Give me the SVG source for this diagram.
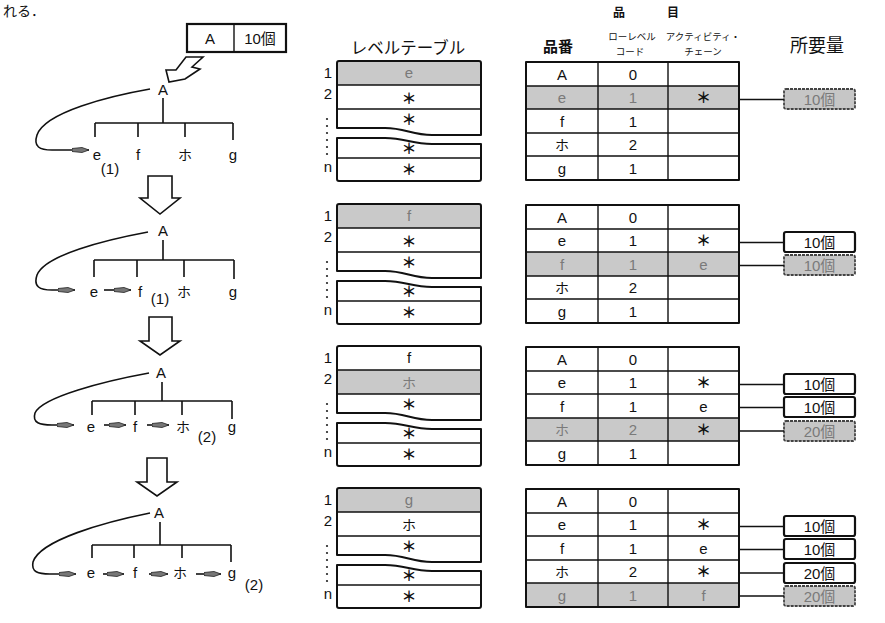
<svg xmlns="http://www.w3.org/2000/svg" xmlns:xlink="http://www.w3.org/1999/xlink" width="885" height="623" viewBox="0 0 885 623">
<style>
.t{font-family:"Liberation Sans","Noto Sans CJK JP",sans-serif;fill:#111;font-size:15px}
.j{font-family:"Noto Sans CJK JP","Liberation Sans",sans-serif;fill:#111}
.m{text-anchor:middle}
.gr{fill:#7a7a7a}
.ln{stroke:#111;stroke-width:1.6;fill:none}
.frame{stroke:#111;stroke-width:2;fill:none;stroke-linejoin:round}
.div{stroke:#111;stroke-width:1.4;fill:none}
.shade{fill:#c9c9c9}
.ast{font-family:"Noto Sans CJK JP",sans-serif;font-weight:bold;font-size:15px;fill:#111;text-anchor:middle}
.box{fill:#fff;stroke:#111;stroke-width:2.2}
.sbox{fill:#c6c6c6;stroke:#444;stroke-width:1.8;stroke-dasharray:3 1}
.hol{fill:#fff;stroke:#111;stroke-width:1.6;stroke-linejoin:miter}
.dot{fill:#222}
</style>
<defs>
<marker id="dart" viewBox="0 0 17 7" refX="17" refY="3.5" markerWidth="17" markerHeight="7" markerUnits="userSpaceOnUse" orient="auto">
<path d="M0,2 L10,1 L17,3.5 L10,6 L0,5 Z" fill="#777" stroke="#222" stroke-width="0.8"/>
</marker>
<g id="lvl">
<path class="frame" d="M0,2 Q0,0 2,0 H142 Q144,0 144,2 V74 H95 C75,74 68,67 48,67 H0 Z"/>
<path class="div" d="M0,24 H144 M0,48 H144"/>
<path class="frame" d="M0,77 H48 C68,77 75,83 95,83 H144 V118 Q144,120 142,120 H2 Q0,120 0,118 Z"/>
<path class="div" d="M0,97 H144"/>
</g>
<g id="rt">
<rect class="frame" x="0" y="0" width="213" height="118"/>
<path class="div" d="M72,0 V118 M142,0 V118 M0,24 H213 M0,47 H213 M0,71 H213 M0,94 H213"/>
</g>
<g id="lvlLabels">
<text class="t m" x="328" y="78">1</text>
<text class="t m" x="328" y="98.5">2</text>
<circle class="dot" cx="327" cy="119" r="1.1"/><circle class="dot" cx="327" cy="126" r="1.1"/><circle class="dot" cx="327" cy="133" r="1.1"/><circle class="dot" cx="327" cy="140" r="1.1"/><circle class="dot" cx="327" cy="147" r="1.1"/><circle class="dot" cx="327" cy="154" r="1.1"/>
<text class="t m" x="328" y="172">n</text>
</g>
</defs>

<text class="j" x="3" y="16" font-size="14">れる．</text>

<g id="headers">
<text class="j m" x="408" y="54" font-size="16.5">レベルテーブル</text>
<text class="j m" x="619 673" y="17" font-size="12" font-weight="bold">品目</text>
<text class="j m" x="558" y="52" font-size="15" font-weight="bold">品番</text>
<text class="j m" x="632" y="40" font-size="9.5">ローレベル</text>
<text class="j m" x="630" y="55" font-size="9.5">コード</text>
<text class="j m" x="703" y="40" font-size="9.5">アクティビティ・</text>
<text class="j m" x="703" y="55" font-size="9.5">チェーン</text>
<text class="j m" x="817" y="52" font-size="18">所要量</text>
</g>

<g id="startBox">
<rect x="187" y="24" width="99" height="28" fill="#fff" stroke="#111" stroke-width="2.2"/>
<line x1="234" y1="24" x2="234" y2="52" stroke="#111" stroke-width="1.4"/>
<text class="t m" x="210" y="44" font-size="16">A</text>
<text class="t m" x="260" y="44" font-size="16">10個</text>
</g>

<g id="tree1">
<text class="t m" x="163" y="95" font-size="16">A</text>
<text class="t m" x="97" y="160">e</text>
<text class="t m" x="138" y="160">f</text>
<text class="j m" x="185" y="160" font-size="14">ホ</text>
<text class="t m" x="233" y="160">g</text>
<text class="t m" x="110" y="174" font-size="13">(1)</text>
</g>
<g id="tree2">
<text class="t m" x="163" y="236" font-size="16">A</text>
<text class="t m" x="94" y="297">e</text>
<text class="t m" x="140" y="297">f</text>
<text class="j m" x="184" y="297" font-size="14">ホ</text>
<text class="t m" x="233" y="297">g</text>
<text class="t m" x="160" y="304" font-size="13">(1)</text>
</g>
<g id="tree3">
<text class="t m" x="161" y="378" font-size="16">A</text>
<text class="t m" x="91" y="432">e</text>
<text class="t m" x="135" y="432">f</text>
<text class="j m" x="183" y="432" font-size="14">ホ</text>
<text class="t m" x="232" y="432">g</text>
<text class="t m" x="207" y="442" font-size="13">(2)</text>
</g>
<g id="tree4">
<text class="t m" x="159" y="518" font-size="16">A</text>
<text class="t m" x="91" y="578">e</text>
<text class="t m" x="135" y="578">f</text>
<text class="j m" x="180" y="578" font-size="14">ホ</text>
<text class="t m" x="232" y="578">g</text>
<text class="t m" x="254" y="590" font-size="13">(2)</text>
</g>

<g id="panel1">
<rect class="shade" x="337" y="61" width="144" height="24"/>
<rect class="shade" x="526" y="86" width="213" height="23"/>
<use xlink:href="#lvl" href="#lvl" x="337" y="61"/>
<use xlink:href="#lvlLabels" href="#lvlLabels"/>
<text class="t m gr" x="409" y="78">e</text>
<text class="ast" x="409" y="103.5">＊</text>
<text class="ast" x="409" y="124.5">＊</text>
<text class="ast" x="409" y="153.5">＊</text>
<text class="ast" x="409" y="174.5">＊</text>
<use xlink:href="#rt" href="#rt" x="526" y="62"/>
<text class="t m" x="562" y="79.5">A</text><text class="t m" x="633" y="79.5">0</text>
<text class="t m gr" x="562" y="103">e</text><text class="t m gr" x="633" y="103">1</text><text class="ast gr" x="703.5" y="103">＊</text>
<text class="t m" x="562" y="126.5">f</text><text class="t m" x="633" y="126.5">1</text>
<text class="j m" x="562" y="150" font-size="14">ホ</text><text class="t m" x="633" y="150">2</text>
<text class="t m" x="562" y="173.5">g</text><text class="t m" x="633" y="173.5">1</text>
<rect class="sbox" x="784" y="89" width="71" height="20" rx="2"/>
<text class="t m gr" x="819.5" y="104.5">10個</text>
</g>

<g id="panel2" transform="translate(0,143)">
<rect class="shade" x="337" y="61" width="144" height="24"/>
<rect class="shade" x="526" y="109" width="213" height="24"/>
<use xlink:href="#lvl" href="#lvl" x="337" y="61"/>
<use xlink:href="#lvlLabels" href="#lvlLabels"/>
<text class="t m gr" x="409" y="78">f</text>
<text class="ast" x="409" y="103.5">＊</text>
<text class="ast" x="409" y="124.5">＊</text>
<text class="ast" x="409" y="153.5">＊</text>
<text class="ast" x="409" y="174.5">＊</text>
<use xlink:href="#rt" href="#rt" x="526" y="62"/>
<text class="t m" x="562" y="79.5">A</text><text class="t m" x="633" y="79.5">0</text>
<text class="t m" x="562" y="103">e</text><text class="t m" x="633" y="103">1</text><text class="ast" x="703.5" y="103">＊</text>
<text class="t m gr" x="562" y="126.5">f</text><text class="t m gr" x="633" y="126.5">1</text><text class="t m gr" x="703.5" y="126.5">e</text>
<text class="j m" x="562" y="150" font-size="14">ホ</text><text class="t m" x="633" y="150">2</text>
<text class="t m" x="562" y="173.5">g</text><text class="t m" x="633" y="173.5">1</text>
<rect class="box" x="784" y="89" width="71" height="20" rx="2"/>
<text class="t m" x="819.5" y="104.5">10個</text>
<rect class="sbox" x="784" y="112" width="71" height="20" rx="2"/>
<text class="t m gr" x="819.5" y="127.5">10個</text>
</g>

<g id="panel3" transform="translate(0,285)">
<rect class="shade" x="337" y="85" width="144" height="24"/>
<rect class="shade" x="526" y="133" width="213" height="23"/>
<use xlink:href="#lvl" href="#lvl" x="337" y="61"/>
<use xlink:href="#lvlLabels" href="#lvlLabels"/>
<text class="t m" x="409" y="78">f</text>
<text class="j m gr" x="409" y="103" font-size="14">ホ</text>
<text class="ast" x="409" y="124.5">＊</text>
<text class="ast" x="409" y="153.5">＊</text>
<text class="ast" x="409" y="174.5">＊</text>
<use xlink:href="#rt" href="#rt" x="526" y="62"/>
<text class="t m" x="562" y="79.5">A</text><text class="t m" x="633" y="79.5">0</text>
<text class="t m" x="562" y="103">e</text><text class="t m" x="633" y="103">1</text><text class="ast" x="703.5" y="103">＊</text>
<text class="t m" x="562" y="126.5">f</text><text class="t m" x="633" y="126.5">1</text><text class="t m" x="703.5" y="126.5">e</text>
<text class="j m gr" x="562" y="150" font-size="14">ホ</text><text class="t m gr" x="633" y="150">2</text><text class="ast gr" x="703.5" y="150">＊</text>
<text class="t m" x="562" y="173.5">g</text><text class="t m" x="633" y="173.5">1</text>
<rect class="box" x="784" y="89" width="71" height="20" rx="2"/>
<text class="t m" x="819.5" y="104.5">10個</text>
<rect class="box" x="784" y="112" width="71" height="20" rx="2"/>
<text class="t m" x="819.5" y="127.5">10個</text>
<rect class="sbox" x="784" y="136" width="71" height="20" rx="2"/>
<text class="t m gr" x="819.5" y="151.5">20個</text>
</g>

<g id="panel4" transform="translate(0,427)">
<rect class="shade" x="337" y="61" width="144" height="24"/>
<rect class="shade" x="526" y="156" width="213" height="24"/>
<use xlink:href="#lvl" href="#lvl" x="337" y="61"/>
<use xlink:href="#lvlLabels" href="#lvlLabels"/>
<text class="t m gr" x="409" y="78">g</text>
<text class="j m" x="409" y="103" font-size="14">ホ</text>
<text class="ast" x="409" y="124.5">＊</text>
<text class="ast" x="409" y="153.5">＊</text>
<text class="ast" x="409" y="174.5">＊</text>
<use xlink:href="#rt" href="#rt" x="526" y="62"/>
<text class="t m" x="562" y="79.5">A</text><text class="t m" x="633" y="79.5">0</text>
<text class="t m" x="562" y="103">e</text><text class="t m" x="633" y="103">1</text><text class="ast" x="703.5" y="103">＊</text>
<text class="t m" x="562" y="126.5">f</text><text class="t m" x="633" y="126.5">1</text><text class="t m" x="703.5" y="126.5">e</text>
<text class="j m" x="562" y="150" font-size="14">ホ</text><text class="t m" x="633" y="150">2</text><text class="ast" x="703.5" y="150">＊</text>
<text class="t m gr" x="562" y="173.5">g</text><text class="t m gr" x="633" y="173.5">1</text><text class="t m gr" x="703.5" y="173.5">f</text>
<rect class="box" x="784" y="89" width="71" height="20" rx="2"/>
<text class="t m" x="819.5" y="104.5">10個</text>
<rect class="box" x="784" y="112" width="71" height="20" rx="2"/>
<text class="t m" x="819.5" y="127.5">10個</text>
<rect class="box" x="784" y="136" width="71" height="20" rx="2"/>
<text class="t m" x="819.5" y="151.5">20個</text>
<rect class="sbox" x="784" y="159" width="71" height="20" rx="2"/>
<text class="t m gr" x="819.5" y="174.5">20個</text>
</g>

<g id="connectors">
<polygon class="hol" points="186,57 203,57 192,67 200,69 185,79 169,82 166,70 176,70"/>
<polygon class="hol" points="148,176 172,176 172,198 180,198 160,214 140,198 148,198"/>
<polygon class="hol" points="149,317 172,317 172,341 180,341 160,355 140,341 149,341"/>
<polygon class="hol" points="147,458 167,458 167,482 177,482 157,496 137,482 147,482"/>

<path class="ln" d="M163,98 V123 M95,123 H233 M95,123 V137 M138,123 V137 M185,123 V137 M233,123 V140"/>
<path class="ln" d="M150,89 C110,96 45,112 37,135 C33,147 40,150 52,150 L89,150" marker-end="url(#dart)"/>

<path class="ln" d="M163,240 V260 M94,260 H234 M94,260 V277 M137,260 V277 M184,260 V277 M234,260 V279"/>
<path class="ln" d="M148,232 C105,240 45,255 37,275 C33,287 40,290 52,290 L75,290" marker-end="url(#dart)"/>
<path class="ln" d="M104,290 L131,290" marker-end="url(#dart)"/>

<path class="ln" d="M162,382 V401 M92,401 H232 M92,401 V415 M135,401 V415 M182,401 V415 M232,401 V419"/>
<path class="ln" d="M149,373 C105,381 42,397 35,413 C32,423 40,425 52,425 L74,425" marker-end="url(#dart)"/>
<path class="ln" d="M104,425 L126,425" marker-end="url(#dart)"/>
<path class="ln" d="M147,425 L169,425" marker-end="url(#dart)"/>

<path class="ln" d="M160,522 V545 M92,545 H231 M92,545 V558 M134,545 V558 M182,545 V558 M231,545 V562"/>
<path class="ln" d="M150,513 C105,522 40,540 33,562 C31,572 38,574 50,574 L76,574" marker-end="url(#dart)"/>
<path class="ln" d="M103,574 L124,574" marker-end="url(#dart)"/>
<path class="ln" d="M149,574 L168,574" marker-end="url(#dart)"/>
<path class="ln" d="M196,574 L221,574" marker-end="url(#dart)"/>

<path class="ln" d="M739,99.5 H784"/>
<path class="ln" d="M739,242.5 H784 M739,265.5 H784"/>
<path class="ln" d="M739,384.5 H784 M739,407.5 H784 M739,431 H784"/>
<path class="ln" d="M739,526.5 H784 M739,549.5 H784 M739,573 H784 M739,596 H784"/>
</g>
</svg>
